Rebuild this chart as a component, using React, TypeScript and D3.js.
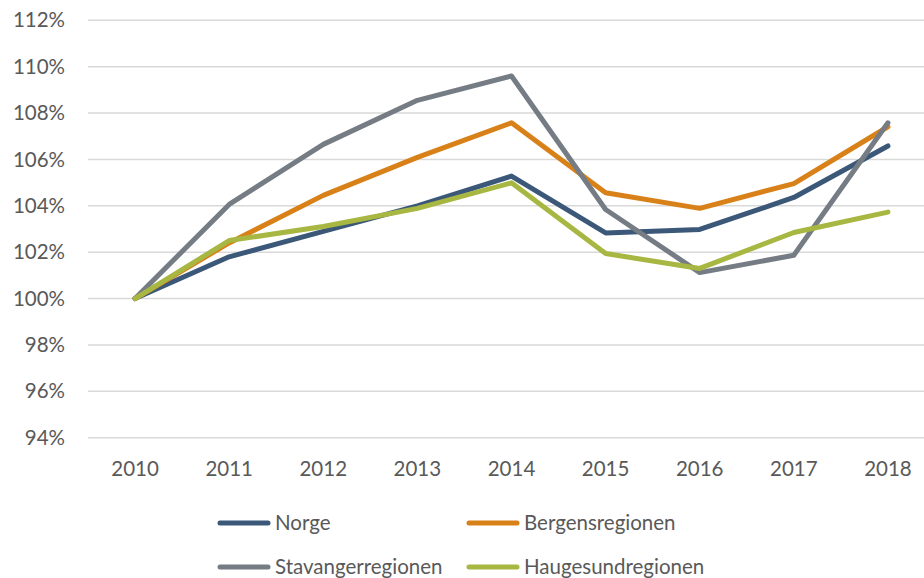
import React from "react";
import * as d3 from "d3";

const years = ["2010", "2011", "2012", "2013", "2014", "2015", "2016", "2017", "2018"];
const norge = [100, 101.8, 102.9, 104.0, 105.28, 102.83, 102.98, 104.36, 106.58];
const bergen = [100, 102.4, 104.45, 106.09, 107.58, 104.56, 103.89, 104.96, 107.41];
const stavanger = [100, 104.06, 106.65, 108.55, 109.6, 103.84, 101.12, 101.87, 107.58];
const haugesund = [100, 102.5, 103.11, 103.89, 104.99, 101.94, 101.3, 102.85, 103.73];
const yTicks = [94, 96, 98, 100, 102, 104, 106, 108, 110, 112];

const series = [
  { name: "Norge", values: norge, color: "#3b5878" },
  { name: "Bergensregionen", values: bergen, color: "#d98119" },
  { name: "Stavangerregionen", values: stavanger, color: "#757c84" },
  { name: "Haugesundregionen", values: haugesund, color: "#a7b741" },
];

const W = 924;
const H = 578;
const left = 88;
const right = 935;
const top = 20.3;
const bottom = 437.7;
const font = "Lato, 'Open Sans', sans-serif";

export default function App() {
  const x = d3.scaleBand<string>().domain(years).range([left, right]);
  const y = d3.scaleLinear().domain([94, 112]).range([bottom, top]);
  const cx = (d: string) => (x(d) as number) + x.bandwidth() / 2;
  const line = d3
    .line<number>()
    .x((_, i) => cx(years[i]))
    .y((v) => y(v));

  const legend = [
    { s: series[0], lx: 218, ly: 523 },
    { s: series[1], lx: 467, ly: 523 },
    { s: series[2], lx: 218, ly: 567 },
    { s: series[3], lx: 467, ly: 567 },
  ];

  return (
    <svg width={W} height={H} style={{ position: "absolute", left: 0, top: 0, background: "#fff" }}>
      {yTicks.map((t) => (
        <g key={t}>
          <line x1={left} x2={W} y1={y(t)} y2={y(t)} stroke="#d9d9d9" strokeWidth={1.5} />
          <text x={65} y={y(t)} dy="0.35em" textAnchor="end" fontSize={20.5} fill="#595959" fontFamily={font}>
            {t}%
          </text>
        </g>
      ))}
      {years.map((yr) => (
        <text key={yr} x={cx(yr)} y={476} textAnchor="middle" fontSize={20.5} fill="#595959" fontFamily={font}>
          {yr}
        </text>
      ))}
      {series.map((s) => (
        <path
          key={s.name}
          d={line(s.values) as string}
          fill="none"
          stroke={s.color}
          strokeWidth={5}
          strokeLinejoin="round"
          strokeLinecap="round"
        />
      ))}
      {legend.map(({ s, lx, ly }) => (
        <g key={s.name}>
          <line x1={lx + 2} x2={lx + 50} y1={ly} y2={ly} stroke={s.color} strokeWidth={5} strokeLinecap="round" />
          <text x={lx + 57} y={ly} dy="0.35em" fontSize={20.5} fill="#595959" fontFamily={font}>
            {s.name}
          </text>
        </g>
      ))}
    </svg>
  );
}
